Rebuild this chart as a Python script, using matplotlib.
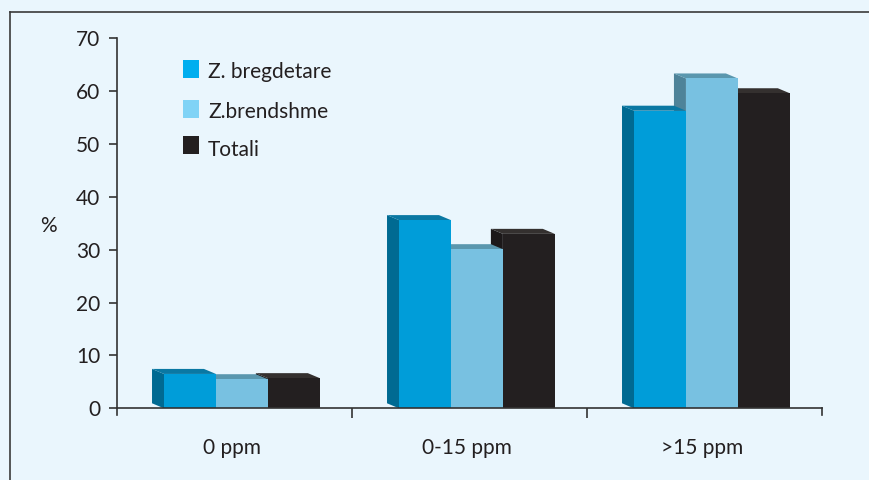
"""Pseudo-3D grouped bar chart: share by iodine level (0 ppm, 0-15 ppm, >15 ppm)."""

import matplotlib.pyplot as plt
from matplotlib.lines import Line2D
from matplotlib.patches import Polygon, Rectangle

plt.rcParams["font.family"] = ["Lato", "DejaVu Sans"]

categories = ["0 ppm", "0-15 ppm", ">15 ppm"]
series_names = ["Z. bregdetare", "Z.brendshme", "Totali"]
bregdetare = [6.5, 35.6, 56.3]
brendshme = [5.5, 30.1, 62.4]
totali = [5.7, 33.0, 59.6]

BG = "#eaf6fd"
# (front, top, side) for each series
face_colors = [
    ("#009dd9", "#0a78a3", "#006a92"),
    ("#78c1e1", "#5a97ae", "#4e8399"),
    ("#231f20", "#34302f", "#1c1819"),
]
legend_colors = ["#00aeef", "#80d3f6", "#231f20"]

W = 0.221     # bar width (data units)
DX = 0.051    # depth offset to the left
DY = 0.95     # depth offset upwards
FS = 15

fig = plt.figure(figsize=(8.7, 4.8), dpi=100, facecolor=BG)
ax = fig.add_axes([117 / 870, 1 - 408.3 / 480, 705 / 870, 370 / 480])
ax.set_facecolor(BG)

# frame around the figure (only top and left edges fall inside the picture)
fx, fy = 10.5 / 870, 1 - 12 / 480
fig.lines.append(Line2D([fx, 1.0], [fy, fy], transform=fig.transFigure,
                        color="#3a3a3a", linewidth=1.2))
fig.lines.append(Line2D([fx, fx], [0.0, fy], transform=fig.transFigure,
                        color="#3a3a3a", linewidth=1.2))


def bar3d(xl, h, colors, z):
    front, top, side = colors
    ax.add_patch(Polygon([(xl, 0), (xl, h), (xl - DX, h + DY), (xl - DX, DY)],
                         closed=True, facecolor=side, edgecolor="none", zorder=z))
    ax.add_patch(Polygon([(xl, h), (xl + W, h), (xl + W - DX, h + DY), (xl - DX, h + DY)],
                         closed=True, facecolor=top, edgecolor="none", zorder=z))
    ax.bar(xl, h, W, align="edge", color=front, edgecolor="none", zorder=z + 0.5)


all_vals = [bregdetare, brendshme, totali]
for i in range(len(categories)):
    left0 = i - 0.3
    # draw right to left so nearer (left) bars cover the ones behind
    for k in reversed(range(len(all_vals))):
        bar3d(left0 + k * W, all_vals[k][i], face_colors[k], 2 + (2 - k))

ax.set_xlim(-0.5, 2.5)
ax.set_ylim(0, 70)
ax.set_yticks(range(0, 71, 10))
ax.set_xticks([0.5, 1.5])
ax.set_xticklabels([])
ax.tick_params(axis="both", direction="out", length=6, width=1.2, color="#333333",
               labelsize=FS, labelcolor="#231f20", pad=6)
ax.tick_params(axis="x", length=7)
for s in ["top", "right"]:
    ax.spines[s].set_visible(False)
for s in ["left", "bottom"]:
    ax.spines[s].set_linewidth(1.2)
    ax.spines[s].set_color("#333333")
    ax.spines[s].set_zorder(10)
ax.spines["left"].set_bounds(0, 70)

# end ticks at both ends of the x axis
ax.plot([2.5, 2.5], [0, -1.2], color="#333333", lw=1.2, clip_on=False, zorder=10)
ax.plot([-0.5, -0.5], [0, -1.2], color="#333333", lw=1.2, clip_on=False, zorder=10)

for i, lab in enumerate(categories):
    ax.text(i - 0.01, -7.5, lab, ha="center", va="center", fontsize=FS, color="#231f20")

fig.text(48 / 870, 1 - 226 / 480, "%", ha="center", va="center", fontsize=FS, color="#231f20")

# legend
leg_y = [69, 109, 145]
leg_ty = [72.5, 112.5, 149.5]
for name, col, y, ty in zip(series_names, legend_colors, leg_y, leg_ty):
    fig.patches.append(Rectangle((183 / 870, 1 - (y + 9) / 480), 16 / 870, 18 / 480,
                                 transform=fig.transFigure, facecolor=col, edgecolor="none"))
    fig.text(208 / 870, 1 - ty / 480, name, ha="left", va="center", fontsize=FS,
             color="#231f20")

fig.savefig("out.png", dpi=100, facecolor=BG)
